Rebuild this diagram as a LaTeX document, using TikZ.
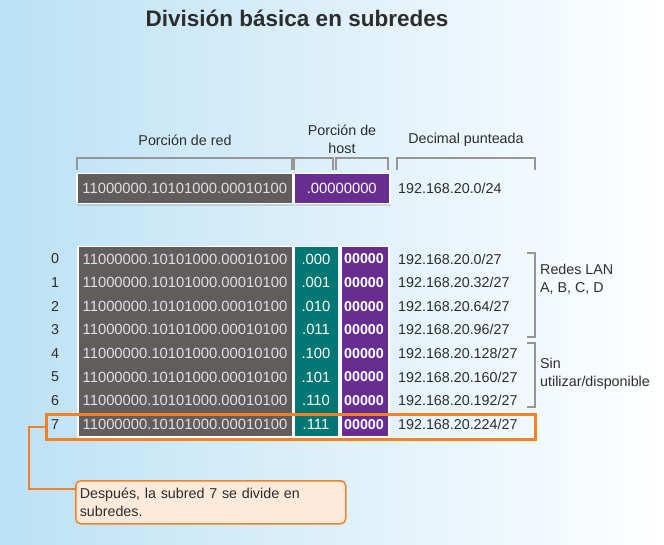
\documentclass[tikz,border=0pt]{standalone}
\usepackage{fontspec}
\setmainfont{Liberation Sans}
\usetikzlibrary{positioning, shadows}

\definecolor{netgray}{RGB}{97,93,93}
\definecolor{hostpurple}{RGB}{104,45,145}
\definecolor{subteal}{RGB}{0,119,114}
\definecolor{selorange}{RGB}{242,130,40}
\definecolor{notefill}{RGB}{253,234,218}
\definecolor{bgblue}{RGB}{188,225,245}
\definecolor{txtgray}{RGB}{45,45,45}
\definecolor{brgray}{RGB}{150,150,150}

\begin{document}
\begin{tikzpicture}[x=1pt, y=-1pt,
    txt/.style={font=\fontsize{14.3}{18}\selectfont, text=txtgray, inner sep=0pt},
    col/.style={draw=white, line width=1.5pt, anchor=north west, inner sep=0pt, drop shadow={opacity=0.25, shadow xshift=1pt, shadow yshift=-2pt}},
    bits/.style={font=\fontsize{14.8}{17}\selectfont, text=white, inner sep=0pt},
    brk/.style={draw=brgray, line width=1.2pt}
]

% Background
\shade[left color=bgblue, right color=white] (0,0) rectangle (664,545);
\useasboundingbox (0,0) rectangle (664,545);

\node[font=\fontsize{22.5}{26}\selectfont\bfseries, text=txtgray] (titulo) at (297,18) {División básica en subredes};

% Column headers
\node[txt] (lred) at (185,140) {Porción de red};
\node[txt, align=center] (lhost) at (342,139) {Porción de\\host};
\node[txt] (ldec) at (466,140) {Decimal punteada};
\foreach \a/\b in {77/292, 294/333, 336/388, 397/535} {
    \draw[brk] (\a,170) -- (\a,158) -- (\b,158) -- (\b,170);
}

% Original /24 network
\node[col, fill=netgray, minimum width=216pt, minimum height=30pt, bits, text=white!88!black] (red) at (76,173) {11000000.10101000.00010100};
\node[col, fill=hostpurple, minimum width=96pt, minimum height=30pt, bits] (host) at (293,173) {.00000000};
\node[txt, anchor=west] (dec24) at (398,188) {192.168.20.0/24};

% Subnets /27
\node[col, fill=netgray, minimum width=215pt, minimum height=190pt] (tred) at (77,246) {};
\node[col, fill=subteal, minimum width=45pt, minimum height=190pt] (tsub) at (293,246) {};
\node[col, fill=hostpurple, minimum width=48pt, minimum height=190pt] (thost) at (340,246) {};
\foreach \i/\b/\d in {0/000/0, 1/001/32, 2/010/64, 3/011/96, 4/100/128, 5/101/160, 6/110/192, 7/111/224} {
    \node[txt] (n\i) at (55, 259+23.6*\i) {\i};
    \node[bits, text=white!88!black] (r\i) at (185, 259+23.6*\i) {11000000.10101000.00010100};
    \node[bits] (s\i) at (316, 259+23.6*\i) {.\b};
    \node[bits, font=\fontsize{14.3}{17}\selectfont\bfseries] (h\i) at (364, 259+23.6*\i) {00000};
    \node[txt, anchor=west] (d\i) at (398, 259+23.6*\i) {192.168.20.\d/27};
}

% Groups
\draw[brk] (527,253) -- (535,253) -- (535,337) -- (527,337);
\draw[brk] (527,343) -- (535,343) -- (535,407) -- (527,407);
\node[txt, anchor=west, align=left] (lan) at (540,279) {Redes LAN\\A, B, C, D};
\node[txt, anchor=west, align=left] (libre) at (540,374) {Sin\\utilizar/disponible};

% Subnet 7 highlight
\node[draw=selorange, line width=2.5pt, anchor=north west, minimum width=489pt, minimum height=25pt, inner sep=0pt] (sel) at (45,413) {};
\node[draw=selorange, fill=notefill, line width=1.5pt, rounded corners=5pt, anchor=north west, minimum width=270pt, minimum height=43pt, text width=262pt, align=left, txt, inner xsep=4pt] (nota) at (75,480) {Después, la subred 7 se divide en\\subredes.};
\draw[selorange, line width=2.5pt] (sel.west) -- ++(-16,0) |- ([yshift=-9pt]nota.north west);

\end{tikzpicture}
\end{document}
